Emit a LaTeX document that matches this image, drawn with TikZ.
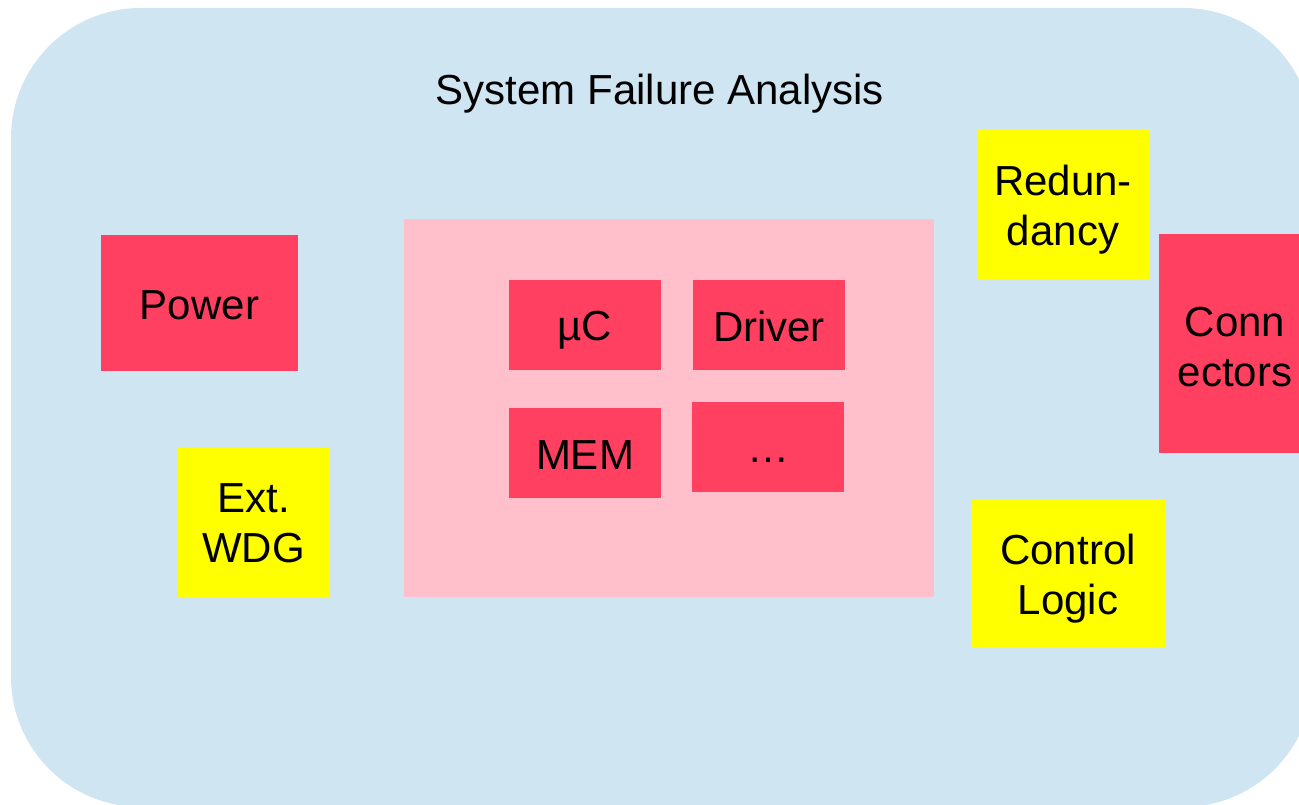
\documentclass[tikz,border=0pt]{standalone}
\usepackage{fontspec}
\setmainfont{Liberation Sans}
\definecolor{panelblue}{RGB}{207,229,242}
\definecolor{corepink}{RGB}{255,192,203}
\definecolor{blockred}{RGB}{255,64,96}
\definecolor{blockyellow}{RGB}{255,255,0}
% line strut with the font's full ascent and descent, so every line box has the same size
\newcommand\lnstrut{\rule[-0.212em]{0pt}{1.117em}}
\tikzset{
  lbl/.style={font=\fontsize{42}{50}\selectfont, align=center, inner sep=0pt, text=black},
  redblk/.style={lbl, fill=blockred, draw=none},
  yelblk/.style={lbl, fill=blockyellow, draw=none},
  sized/.style 2 args={minimum width=#1pt, minimum height=#2pt}
}
\begin{document}
\begin{tikzpicture}[x=1pt, y=-1pt]
  \useasboundingbox (0,0) rectangle (1299,805);
  \clip (0,0) rectangle (1299,805);

  % outer panel
  \fill[panelblue, rounded corners=130pt] (11,8) rectangle (1313,807);
  \node[lbl] (title) at (660,89.5) {\lnstrut System Failure Analysis};

  % controller core area
  \node[fill=corepink, inner sep=0pt, sized={530}{378}] (core) at (669,408) {};
  \node[redblk, sized={152}{90}] (uc)     at (585,325) {\lnstrut\raisebox{-2pt}{µC}};
  \node[redblk, sized={152}{90}] (driver) at (769,325) {\lnstrut\raisebox{-2pt}{Driver}};
  \node[redblk, sized={152}{90}] (mem)    at (585,453) {\lnstrut\raisebox{-2pt}{MEM}};
  \node[redblk, sized={152}{90}] (more)   at (768,447) {\lnstrut\raisebox{-1pt}{…}};

  % surrounding blocks
  \node[redblk, sized={197}{136}] (power) at (199.5,303) {\lnstrut\raisebox{-1.5pt}{Power}};
  \node[yelblk, sized={151}{149}] (wdg)   at (253.5,522.5) {\lnstrut Ext.\\\lnstrut WDG};
  \node[yelblk, sized={172}{150}] (red)   at (1063,204) {\lnstrut\raisebox{-3.5pt}{Redun-}\\\lnstrut\raisebox{-3.5pt}{dancy}};
  \node[redblk, sized={152}{219}] (conn)  at (1235,343.5) {\lnstrut\raisebox{-3pt}{Conn}\\\lnstrut\raisebox{-3pt}{ectors}};
  \node[yelblk, sized={194}{149}] (ctrl)  at (1068,573.5) {\lnstrut\raisebox{-2.5pt}{Control}\\\lnstrut\raisebox{-2.5pt}{Logic}};
\end{tikzpicture}
\end{document}
